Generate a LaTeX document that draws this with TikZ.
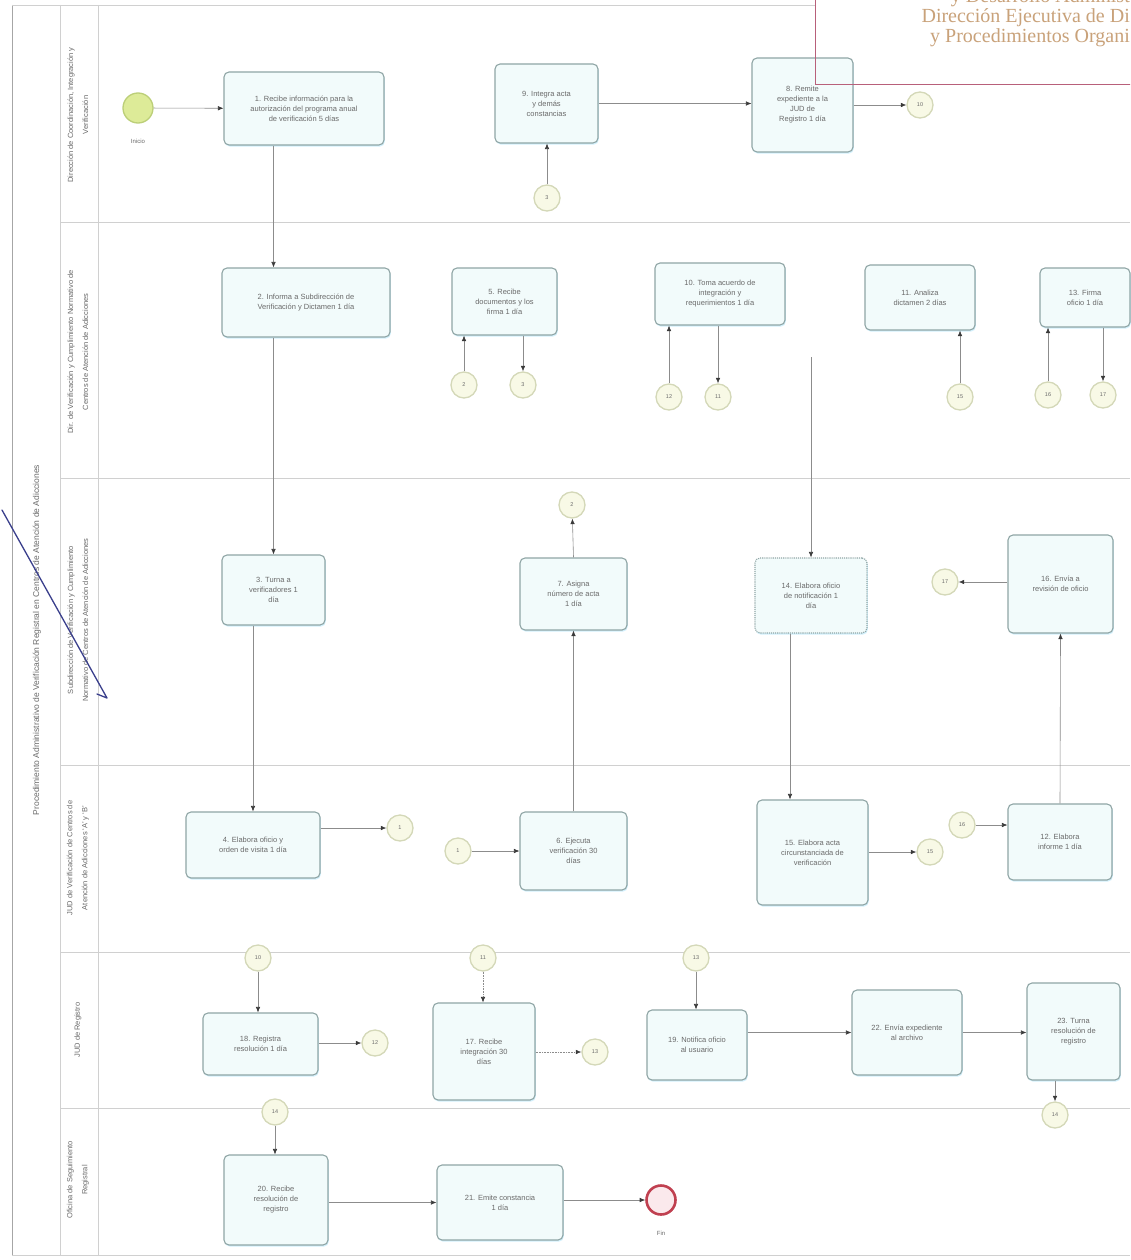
\documentclass[tikz,border=0pt]{standalone}
\usepackage{fontspec}
\setmainfont{Liberation Sans}
\newfontfamily\wmfont{Liberation Serif}
\usetikzlibrary{arrows.meta,shadows}
\definecolor{taskfill}{HTML}{F2FBFB}
\definecolor{taskline}{HTML}{8FA5A5}
\definecolor{evfill}{HTML}{F8F9E6}
\definecolor{evline}{HTML}{D4D8B8}
\definecolor{flow}{HTML}{8C8C8C}
\definecolor{tip}{HTML}{3A3A3A}
\definecolor{txt}{HTML}{6A6A6A}
\definecolor{lanel}{HTML}{D0D0D0}
\definecolor{wmred}{HTML}{B8607A}
\definecolor{wmtxt}{HTML}{C9A27A}
\definecolor{pen}{HTML}{3A3F8C}
\definecolor{startfill}{HTML}{DDEB98}
\definecolor{startline}{HTML}{BCCF78}
\definecolor{endline}{HTML}{C04050}
\definecolor{endfill}{HTML}{FBE9EC}
\begin{document}
\begin{tikzpicture}[x=1pt,y=-1pt,
  taskbox/.style={draw=taskline, line width=1.1pt, rounded corners=5pt, fill=taskfill,
    align=center, text=txt, font=\fontsize{7.5}{10}\selectfont, inner sep=3pt,
    drop shadow={shadow xshift=0.8pt, shadow yshift=-1.6pt, fill=cyan!25, opacity=0.7}},
  evt/.style={circle, draw=evline, line width=1.3pt, fill=evfill, minimum size=26pt,
    inner sep=0pt, text=txt, font=\fontsize{5.5}{6}\selectfont},
  flowarr/.style={draw=flow, line width=0.6pt, -{Latex[length=5.5pt,width=4.5pt,color=tip,fill=tip]}},
  lanetxt/.style={rotate=90, align=center, text=txt, font=\fontsize{7.5}{15}\selectfont},
  sep/.style={draw=lanel, line width=0.6pt}]
\useasboundingbox (0,0) rectangle (1130,1260);
\fill[white] (0,0) rectangle (1130,1260);

% pool and lanes
\draw[draw=gray!70, line width=0.8pt] (12,5) -- (12,1255);
\draw[sep] (12,5) -- (1130,5);
\draw[sep] (12,1255) -- (1130,1255);
\draw[sep] (60,5) -- (60,1255);
\draw[sep] (98,5) -- (98,1255);
\foreach \yy in {222,478,765,952,1108} \draw[sep] (60,\yy) -- (1130,\yy);

\node[lanetxt, font=\fontsize{8.5}{10}\selectfont] (pool) at (37,640) {Procedimiento Administrativo de Verificación Registral en Centros de Atención de Adicciones};
\node[lanetxt] (L1) at (78,115) {Dirección de Coordinación, Integración y\\ Verificación};
\node[lanetxt] (L2) at (78,352) {Dir. de Verificación y Cumplimiento Normativo de\\ Centros de Atención de Adicciones};
\node[lanetxt] (L3) at (78,620) {Subdirección de Verificación y Cumplimiento\\ Normativo de Centros de Atención de Adicciones};
\node[lanetxt] (L4) at (78,858) {JUD de Verificación de Centros de\\ Atención de Adicciones `A' y `B'};
\node[lanetxt] (L5) at (78,1030) {JUD de Registro};
\node[lanetxt] (L6) at (78,1180) {Oficina de Seguimiento\\ Registral};

% tasks
\node[taskbox, minimum width=160pt, minimum height=73pt] (T1) at (304,108.5) {1. Recibe información para la\\ autorización del programa anual\\ de verificación 5 días};
\node[taskbox, minimum width=103pt, minimum height=79pt] (T6) at (546.5,103.5) {9. Integra acta\\ y demás\\ constancias};
\node[taskbox, minimum width=101pt, minimum height=94pt] (T8) at (802.5,105) {8. Remite\\ expediente a la\\ JUD de\\ Registro 1 día};
\node[taskbox, minimum width=168pt, minimum height=69pt] (T2) at (306,302.5) {2. Informa a Subdirección de\\ Verificación y Dictamen 1 día};
\node[taskbox, minimum width=105pt, minimum height=67pt] (T5) at (504.5,301.5) {5. Recibe\\ documentos y los\\ firma 1 día};
\node[taskbox, minimum width=130pt, minimum height=62pt] (T10) at (720,294) {10. Toma acuerdo de\\ integración y\\ requerimientos 1 día};
\node[taskbox, minimum width=110pt, minimum height=65pt] (T11) at (920,297.5) {11. Analiza\\ dictamen 2 días};
\node[taskbox, minimum width=90pt, minimum height=59pt] (T12) at (1085,297.5) {13. Firma\\ oficio 1 día};
\node[taskbox, minimum width=103pt, minimum height=70pt] (T3) at (273.5,590) {3. Turna a\\ verificadores 1\\ día};
\node[taskbox, minimum width=107pt, minimum height=72pt] (T7) at (573.5,594) {7. Asigna\\ número de acta\\ 1 día};
\node[taskbox, densely dotted, minimum width=112pt, minimum height=75pt] (T14) at (811,595.5) {14. Elabora oficio\\ de notificación 1\\ día};
\node[taskbox, minimum width=105pt, minimum height=98pt] (T16) at (1060.5,584) {16. Envía a\\ revisión de oficio};
\node[taskbox, minimum width=134pt, minimum height=66pt] (T4) at (253,845) {4. Elabora oficio y\\ orden de visita 1 día};
\node[taskbox, minimum width=107pt, minimum height=78pt] (T9) at (573.5,851) {6. Ejecuta\\ verificación 30\\ días};
\node[taskbox, minimum width=111pt, minimum height=105pt] (T15) at (812.5,852.5) {15. Elabora acta\\ circunstanciada de\\ verificación};
\node[taskbox, minimum width=104pt, minimum height=76pt] (T17) at (1060,842) {12. Elabora\\ informe 1 día};
\node[taskbox, minimum width=115pt, minimum height=62pt] (T18) at (260.5,1044) {18. Registra\\ resolución 1 día};
\node[taskbox, minimum width=102pt, minimum height=97pt] (T19a) at (484,1051.5) {17. Recibe\\ integración 30\\ días};
\node[taskbox, minimum width=100pt, minimum height=70pt] (T19) at (697,1045) {19. Notifica oficio\\ al usuario};
\node[taskbox, minimum width=110pt, minimum height=85pt] (T22) at (907,1032.5) {22. Envía expediente\\ al archivo};
\node[taskbox, minimum width=93pt, minimum height=97pt] (T23) at (1073.5,1031.5) {23. Turna\\ resolución de\\ registro};
\node[taskbox, minimum width=104pt, minimum height=90pt] (T20) at (276,1200) {20. Recibe\\ resolución de\\ registro};
\node[taskbox, minimum width=126pt, minimum height=75pt] (T21) at (500,1202.5) {21. Emite constancia\\ 1 día};

% events
\node[circle, draw=startline, line width=1.3pt, fill=startfill, minimum size=30pt, inner sep=0pt] (start) at (138,108) {};
\node[text=txt, font=\fontsize{6}{7}\selectfont] (startlbl) at (138,141) {Inicio};
\node[circle, draw=endline, line width=2.6pt, fill=endfill, minimum size=29pt, inner sep=0pt] (end) at (661,1200) {};
\node[text=txt, font=\fontsize{6}{7}\selectfont] (endlbl) at (661,1233) {Fin};
\node[evt] (e1) at (547,198) {3};
\node[evt] (e2) at (920,105) {10};
\node[evt] (e3) at (464,385) {2};
\node[evt] (e4) at (523,385) {3};
\node[evt] (e5) at (669,397) {12};
\node[evt] (e6) at (718,397) {11};
\node[evt] (e7) at (960,397) {15};
\node[evt] (e8) at (1048,395) {16};
\node[evt] (e9) at (1103,395) {17};
\node[evt] (e10) at (572,505) {2};
\node[evt] (e11) at (945,582) {17};
\node[evt] (e12) at (400,828) {1};
\node[evt] (e13) at (458,851) {1};
\node[evt] (e14) at (930,852) {15};
\node[evt] (e15) at (962,825) {16};
\node[evt] (e16) at (258,958) {10};
\node[evt] (e17) at (375,1043) {12};
\node[evt] (e18) at (483,958) {11};
\node[evt] (e19) at (595,1052) {13};
\node[evt] (e20) at (696,958) {13};
\node[evt] (e21) at (1055,1115) {14};
\node[evt] (e22) at (275,1112) {14};
\coordinate (v0) at (811,357);

% flows
\draw[flowarr] (start) -- (T1);
\draw[flowarr] (T1.south -| T3.north) -- (T2.north -| T3.north);
\draw[flowarr] (T2.south -| T3.north) -- (T3.north);
\draw[flowarr] (T3.south -| T4.north) -- (T4.north);
\draw[flowarr] (T4.east |- e12) -- (e12);
\draw[flowarr] (e13) -- (T9.west |- e13);
\draw[flowarr] (T9.north) -- (T7.south);
\draw[flowarr] (T7.north) -- (e10);
\draw[flowarr] (e3) -- (e3 |- T5.south);
\draw[flowarr] (e4 |- T5.south) -- (e4);
\draw[flowarr] (e1) -- (e1 |- T6.south);
\draw[flowarr] (T6.east) -- (T8.west |- T6.east);
\draw[flowarr] (T8.east |- e2) -- (e2);
\draw[flowarr] (e5) -- (e5 |- T10.south);
\draw[flowarr] (e6 |- T10.south) -- (e6);
\draw[flowarr] (e7) -- (e7 |- T11.south);
\draw[flowarr] (e8) -- (e8 |- T12.south);
\draw[flowarr] (e9 |- T12.south) -- (e9);
\draw[flowarr] (v0) -- (T14.north);
\draw[flowarr] ([xshift=-21pt]T14.south) -- ([xshift=-21pt]T14.south |- T15.north);
\draw[flowarr] (T15.east |- e14) -- (e14);
\draw[flowarr] (e15) -- (T17.west |- e15);
\draw[flowarr] (T17.north) -- (T16.south);
\draw[flowarr] (T16.west |- e11) -- (e11);
\draw[flowarr] (e16) -- (e16 |- T18.north);
\draw[flowarr] (T18.east |- e17) -- (e17);
\draw[flowarr, densely dotted] (e18) -- (e18 |- T19a.north);
\draw[flowarr, densely dotted] (T19a.east |- e19) -- (e19);
\draw[flowarr] (e20) -- (e20 |- T19.north);
\draw[flowarr] (T19.east |- T22.west) -- (T22.west);
\draw[flowarr] (T22.east) -- (T23.west |- T22.east);
\draw[flowarr] (e21 |- T23.south) -- (e21);
\draw[flowarr] (e22) -- (e22 |- T20.north);
\draw[flowarr] (T20.east |- T21.west) -- (T21.west);
\draw[flowarr] (T21.east |- end) -- (end);

% watermark (on top)
\begin{scope}
\clip (0,0) rectangle (1130,1260);
\fill[white] (816,-2) rectangle (1132,55);
\draw[wmred, line width=1pt] (815,-2) -- (815,85) -- (1132,85);
\node[anchor=base east, text=wmtxt, font=\wmfont\fontsize{20}{20}\selectfont, inner sep=0pt] (wm0) at (1130,3) {y Desarrollo Administ};
\node[anchor=base east, text=wmtxt, font=\wmfont\fontsize{20}{20}\selectfont, inner sep=0pt] (wm1) at (1130,23) {Dirección Ejecutiva de Di};
\node[anchor=base east, text=wmtxt, font=\wmfont\fontsize{20}{20}\selectfont, inner sep=0pt] (wm2) at (1130,43) {y Procedimientos Organi};
\end{scope}

% pen stroke
\draw[pen, line width=1.3pt, line cap=round, line join=round] (2,510) -- (107,698) -- (97,694);
\end{tikzpicture}
\end{document}
